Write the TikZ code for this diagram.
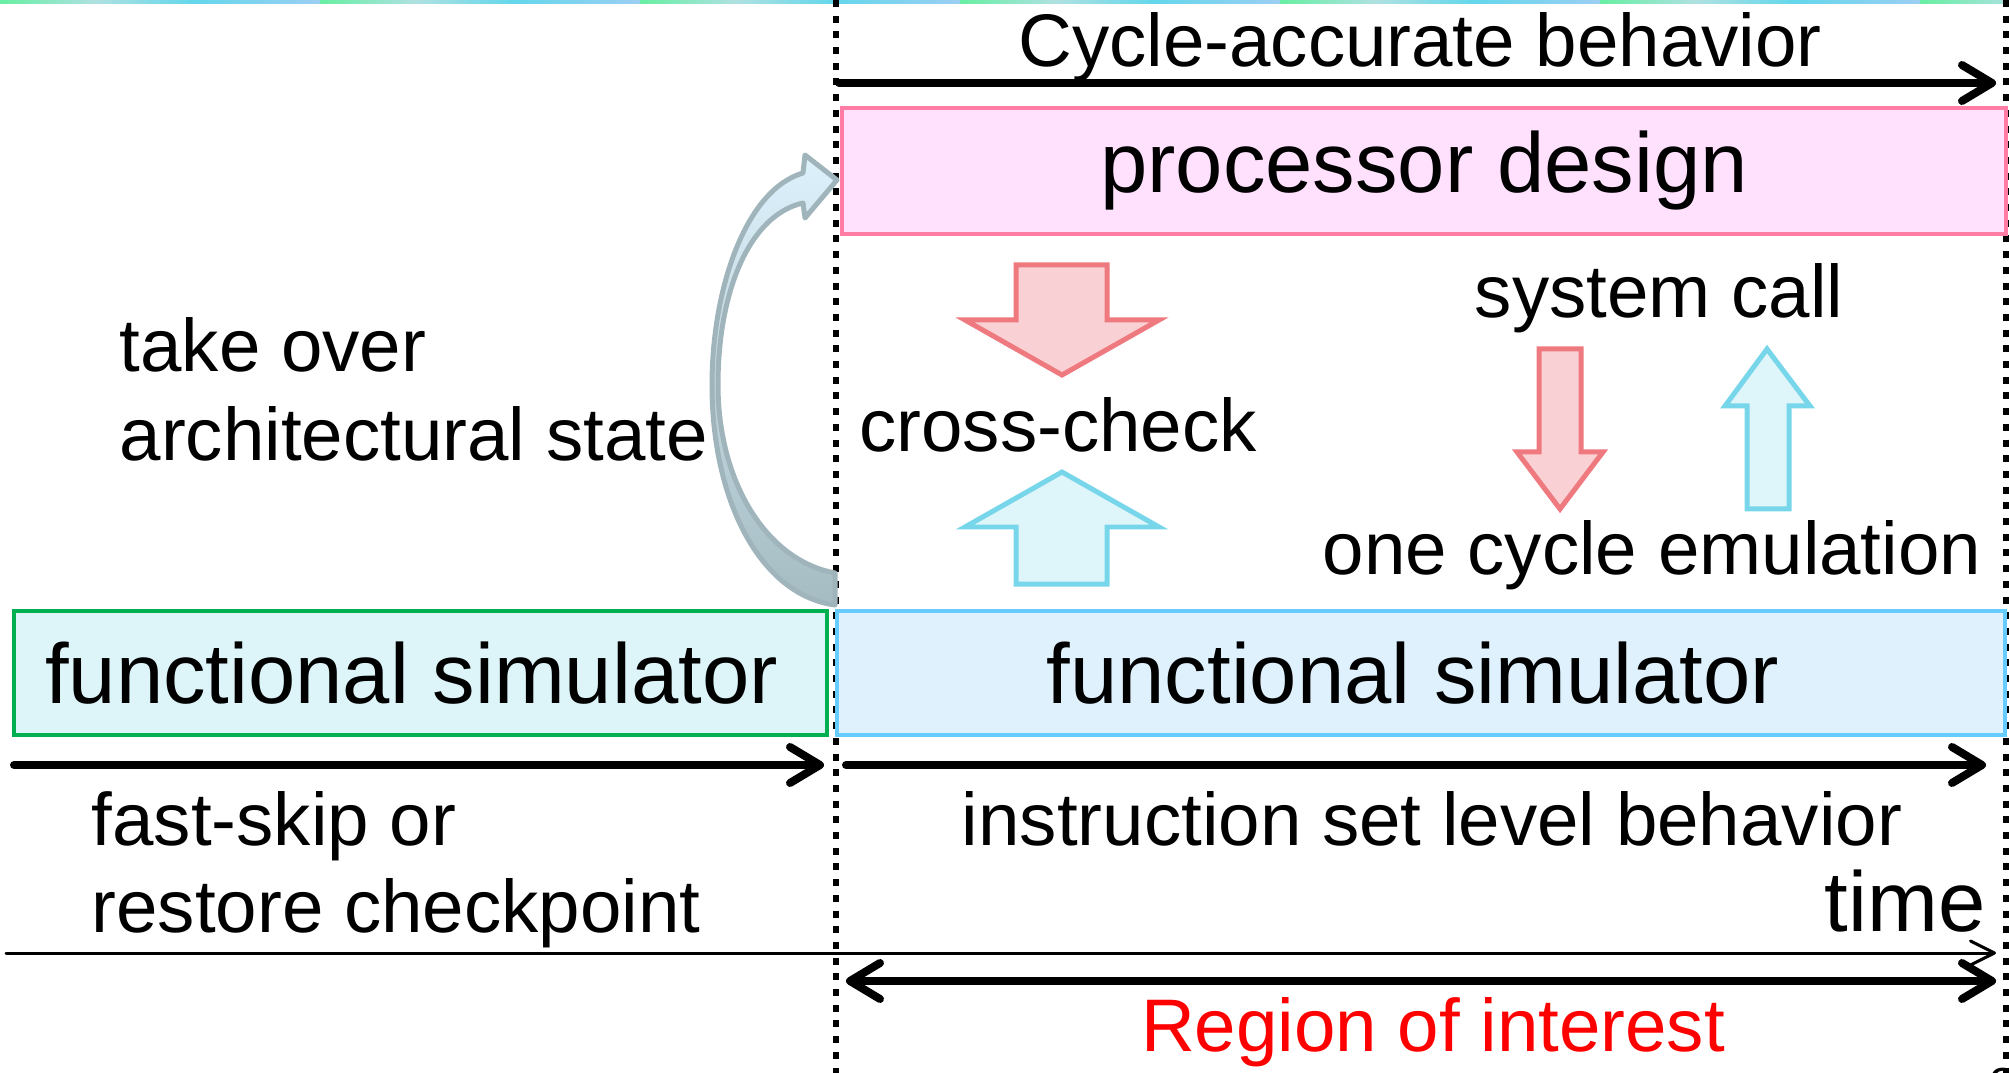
\documentclass[tikz,border=0pt]{standalone}
\usepackage{fontspec}
\setmainfont{Liberation Sans}
\usetikzlibrary{arrows.meta}
\definecolor{lav}{RGB}{196,200,248}
\definecolor{grn}{RGB}{100,240,160}
\definecolor{gbl}{RGB}{175,225,225}
\definecolor{cyn}{RGB}{100,215,235}
\definecolor{procfill}{RGB}{255,225,254}
\definecolor{procline}{RGB}{255,124,164}
\definecolor{fsLfill}{RGB}{221,244,249}
\definecolor{fsLline}{RGB}{0,176,80}
\definecolor{fsRfill}{RGB}{223,241,252}
\definecolor{fsRline}{RGB}{102,204,255}
\definecolor{redline}{RGB}{238,122,128}
\definecolor{redfill}{RGB}{249,208,211}
\definecolor{blueline}{RGB}{120,214,234}
\definecolor{bluefill}{RGB}{222,245,250}
\definecolor{cvline}{RGB}{160,180,188}
\definecolor{cvtop}{RGB}{220,241,251}
\definecolor{cvbot}{RGB}{166,188,195}
\pgfdeclarehorizontalshading{rainbowstrip}{320bp}{color(0bp)=(lav); color(20bp)=(lav); color(45bp)=(grn); color(134bp)=(grn); color(150bp)=(gbl); color(165bp)=(cyn); color(200bp)=(lav); color(320bp)=(lav)}
\tikzset{
  smalltxt/.style={font=\fontsize{21.2}{25}\selectfont, inner sep=0pt},
  bigtxt/.style={font=\fontsize{24.2}{29}\selectfont, inner sep=0pt},
  dotline/.style={line width=0.62mm, dash pattern=on 0.7mm off 0.87mm},
  thickarrow/.style={line width=0.8mm, line cap=round, -{Straight Barb[length=3mm,width=3.6mm,round]}},
  thinarrow/.style={line width=0.3mm, line cap=round, -{Straight Barb[length=2.4mm,width=2.4mm,round]}},
  dblarrow/.style={line width=0.8mm, line cap=round, {Straight Barb[length=3mm,width=3.6mm,round]}-{Straight Barb[length=3mm,width=3.6mm,round]}},
  procbox/.style={draw=procline, fill=procfill, line width=0.4mm, bigtxt},
  fsLbox/.style={draw=fsLline, fill=fsLfill, line width=0.4mm, bigtxt},
  fsRbox/.style={draw=fsRline, fill=fsRfill, line width=0.4mm, bigtxt},
  redblock/.style={draw=redline, fill=redfill, line width=0.5mm, line join=miter},
  blueblock/.style={draw=blueline, fill=bluefill, line width=0.5mm, line join=miter},
  curvearrow/.style={draw=cvline, line width=0.5mm, line join=round, top color=cvtop, bottom color=cvbot}
}
\begin{document}
\begin{tikzpicture}[x=0.1mm,y=-0.1mm]
\useasboundingbox (0,0) rectangle (2009,1073);
% top strip
\foreach \i in {0,...,6} { \shade[shading=rainbowstrip] (\i*320,0) rectangle ++(320,4); }
% dotted separators
\coordinate (dlt) at (836,0); \coordinate (dlb) at (836,1073);
\coordinate (drt) at (2006,0); \coordinate (drb) at (2006,1073);
\draw[dotline] (dlt) -- (dlb);
\draw[dotline] (drt) -- (drb);
% boxes
\node[procbox, minimum width=116.4mm, minimum height=12.6mm] (proc) at (1424,171) {processor design};
\node[fsLbox, minimum width=81.3mm, minimum height=12.4mm] (fsL) at (420.5,673) {};
\node[fsRbox, minimum width=116.8mm, minimum height=12.4mm] (fsR) at (1421,673) {};
\node[bigtxt] (fsLt) at ([xshift=-0.9mm]fsL.center) {functional simulator};
\node[bigtxt] (fsRt) at ([xshift=-0.8mm]fsR.center) {functional simulator};
% horizontal arrows
\coordinate (ca1) at (839,83); \coordinate (ca2) at (1996,83);
\draw[thickarrow] (ca1) -- (ca2);
\coordinate (la1) at (14,765); \coordinate (la2) at (824,765);
\draw[thickarrow] (la1) -- (la2);
\coordinate (ra1) at (846,765); \coordinate (ra2) at (1986,765);
\draw[thickarrow] (ra1) -- (ra2);
\coordinate (ta1) at (6,953); \coordinate (ta2) at (1996,953);
\draw[thinarrow] (ta1) -- (ta2);
\coordinate (ri1) at (846,981); \coordinate (ri2) at (1996,981);
\draw[dblarrow] (ri1) -- (ri2);
% block arrows
\draw[redblock] (1016,265) -- (1107,265) -- (1107,320) -- (1159,320) -- (1062,375) -- (965,320) -- (1016,320) -- cycle;
\draw[blueblock] (1016,584) -- (1107,584) -- (1107,527) -- (1159,527) -- (1062,472) -- (965,527) -- (1016,527) -- cycle;
\draw[redblock] (1539,349) -- (1581,349) -- (1581,452) -- (1603,452) -- (1560,509) -- (1517,452) -- (1539,452) -- cycle;
\draw[blueblock] (1747,509) -- (1789,509) -- (1789,406) -- (1810,406) -- (1767,349) -- (1725,406) -- (1747,406) -- cycle;
% curved take-over arrow
\path[curvearrow] (803,173) .. controls (745,190) and (712,290) .. (712,385) .. controls (712,500) and (760,595) .. (835,605) -- (835,573) .. controls (765,560) and (718,480) .. (718,385) .. controls (718,290) and (750,215) .. (803,203) -- (805,218) -- (837,180) -- (805,155) -- cycle;
% texts
\node[smalltxt, anchor=base] (cab) at (1420,67) {Cycle-accurate behavior};
\node[smalltxt, anchor=base west] (to1) at (119,372) {take over};
\node[smalltxt, anchor=base west] (to2) at (119,461) {architectural state};
\node[smalltxt, anchor=base] (cc) at (1058,451) {cross-check};
\node[smalltxt, anchor=base] (sc) at (1659,318) {system call};
\node[smalltxt, anchor=base] (oce) at (1652,574) {one cycle emulation};
\node[smalltxt, anchor=base west] (fs1) at (91,845) {fast-skip or};
\node[smalltxt, anchor=base west] (fs2) at (91,932) {restore checkpoint};
\node[smalltxt, anchor=base] (isl) at (1432,845) {instruction set level behavior};
\node[bigtxt, anchor=base east] (time) at (1986,931) {time};
\node[smalltxt, anchor=base, text=red] (roi) at (1433,1051) {Region of interest};
\node[font=\fontsize{14}{14}\selectfont, inner sep=0pt, anchor=north west] (pg) at (1989,1067) {8};
\end{tikzpicture}
\end{document}
